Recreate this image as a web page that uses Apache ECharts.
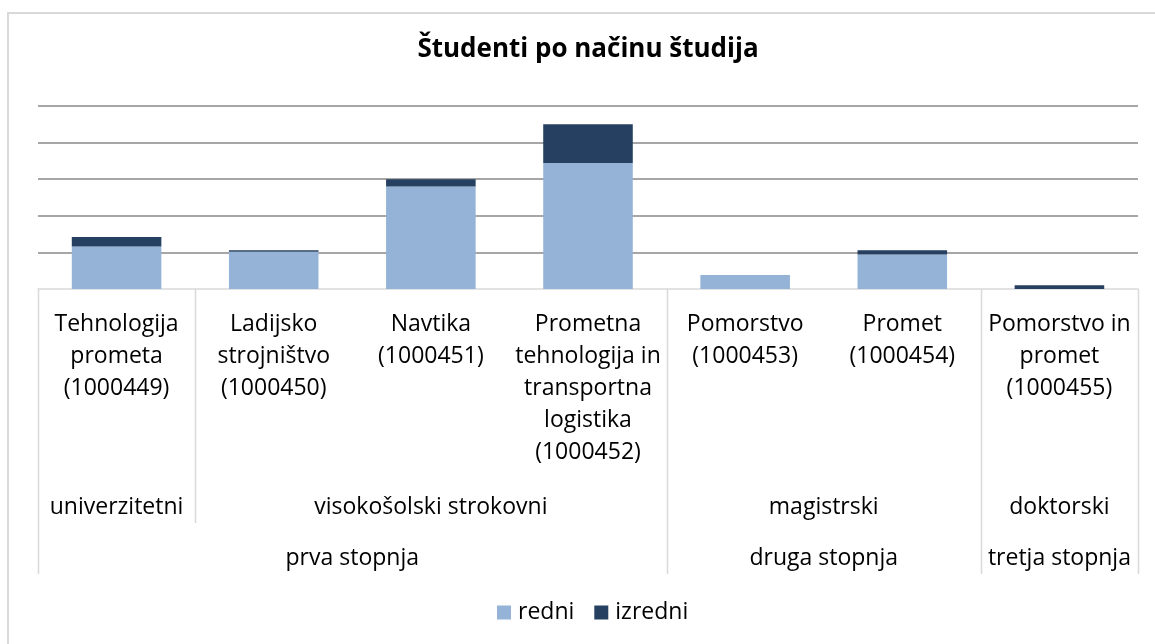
<!DOCTYPE html>
<html>
<head>
<meta charset="utf-8">
<title>Študenti po načinu študija</title>
<script src="https://cdn.jsdelivr.net/npm/echarts@6/dist/echarts.min.js"></script>
<style>
  html, body { margin: 0; padding: 0; background: #fff; }
  #chart { width: 1155px; height: 644px; }
</style>
</head>
<body>
<div id="chart"></div>
<script>
// programmes (level 1 of the category axis)
const categories = [
  'Tehnologija\nprometa\n(1000449)',
  'Ladijsko\nstrojništvo\n(1000450)',
  'Navtika\n(1000451)',
  'Prometna\ntehnologija in\ntransportna\nlogistika\n(1000452)',
  'Pomorstvo\n(1000453)',
  'Promet\n(1000454)',
  'Pomorstvo in\npromet\n(1000455)'
]
const redni   = [58, 51, 140, 172, 19, 47, 0]
const izredni = [13, 2, 10, 53, 0, 6, 5]

// upper levels of the category axis: names + how many programmes each spans
const level2Names = ['univerzitetni', 'visokošolski strokovni', 'magistrski', 'doktorski']
const level2Spans = [1, 3, 2, 1]
const level3Names = ['prva stopnja', 'druga stopnja', 'tretja stopnja']
const level3Spans = [4, 2, 1]

const FONT = '"Open Sans", sans-serif'
const FS = 23
const SEP = '#d9d9d9'
const GRID = '#888888'

const chart = echarts.init(document.getElementById('chart'))

chart.setOption({
  animation: false,
  color: ['#95b3d7', '#254061'],
  title: {
    text: 'Študenti po načinu študija',
    left: 588, top: 37, textAlign: 'center', padding: 0,
    textStyle: { fontFamily: FONT, fontSize: 26, fontWeight: 'bold', color: '#000' }
  },
  legend: {
    left: 497, top: 601, padding: 0, itemGap: 20,
    icon: 'rect', itemWidth: 14, itemHeight: 14,
    textStyle: { fontFamily: FONT, fontSize: FS, color: '#000', padding: [0, 0, 0, 2] },
    data: ['redni', 'izredni']
  },
  grid: { left: 38, right: 17, top: 106, bottom: 355, outerBoundsMode: 'none' },
  xAxis: {
    type: 'category',
    data: categories,
    axisLine: { lineStyle: { color: SEP, width: 1.5 } },
    axisTick: { show: false },
    axisLabel: {
      interval: 0, margin: 19, lineHeight: 32,
      fontFamily: FONT, fontSize: FS, color: '#000', align: 'center'
    }
  },
  yAxis: {
    type: 'value', min: 0, max: 250, interval: 50,
    axisLabel: { show: false },
    axisLine: { show: false },
    axisTick: { show: false },
    splitLine: { lineStyle: { color: ['rgba(0,0,0,0)', GRID, GRID, GRID, GRID, GRID], width: 1.5 } }
  },
  series: [
    { name: 'redni', type: 'bar', stack: 'st', data: redni, barCategoryGap: '43%' },
    { name: 'izredni', type: 'bar', stack: 'st', data: izredni, barCategoryGap: '43%' }
  ]
})

// draw the grouped (multi-level) part of the axis from the category scale
function drawGroups() {
  const x0 = chart.convertToPixel({ xAxisIndex: 0 }, 0)
  const step = chart.convertToPixel({ xAxisIndex: 0 }, 1) - x0
  const edge = b => x0 - step / 2 + b * step
  const base = chart.convertToPixel({ yAxisIndex: 0 }, 0)
  const row2Bottom = base + 234
  const row3Bottom = base + 285

  const bounds = spans => {
    const out = [0]
    spans.forEach(s => out.push(out[out.length - 1] + s))
    return out
  }
  const b2 = bounds(level2Spans)
  const b3 = bounds(level3Spans)

  const els = []
  const seps = Array.from(new Set(b2.concat(b3)))
  seps.forEach(b => {
    const y2 = b3.includes(b) ? row3Bottom : row2Bottom
    const x = Math.round(edge(b)) + 0.5
    els.push({ type: 'line', silent: true, shape: { x1: x, y1: base, x2: x, y2 },
      style: { stroke: SEP, lineWidth: 1.5 } })
  })
  const text = (names, b, y) => names.forEach((n, i) => {
    els.push({ type: 'text', silent: true, x: (edge(b[i]) + edge(b[i + 1])) / 2, y,
      style: { text: n, fill: '#000', fontFamily: FONT, fontSize: FS,
        align: 'center', verticalAlign: 'middle' } })
  })
  text(level2Names, b2, base + 218)
  text(level3Names, b3, base + 269)

  // outer chart frame
  els.push({ type: 'rect', silent: true, z: -1, shape: { x: 8, y: 13, width: 1170, height: 660 },
    style: { fill: 'none', stroke: SEP, lineWidth: 2 } })

  chart.setOption({ graphic: els })
}
drawGroups()
</script>
</body>
</html>
